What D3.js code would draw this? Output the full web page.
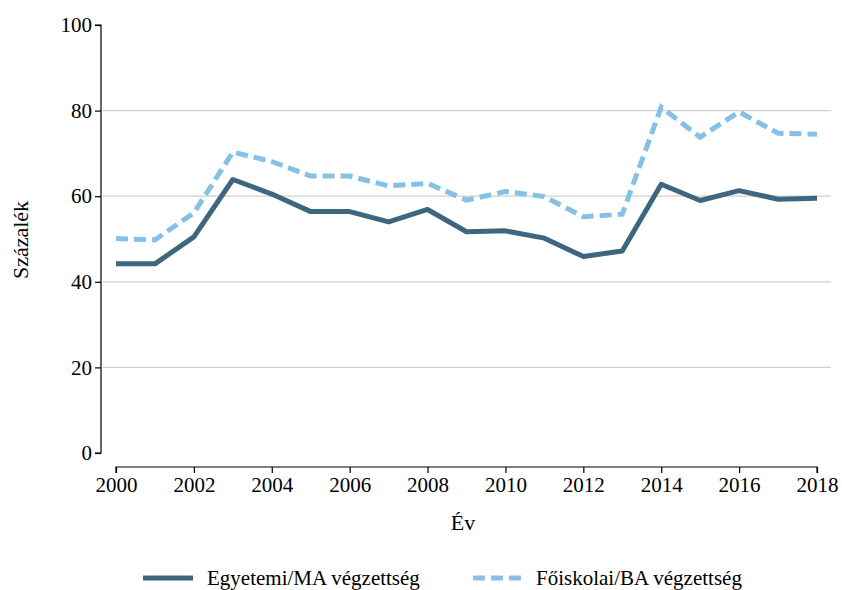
<!DOCTYPE html>
<html><head><meta charset="utf-8">
<script src="https://cdn.jsdelivr.net/npm/d3@7"></script>
</head><body style="margin:0">
<svg id="chart" width="842" height="590"></svg>
<script>
const years = [2000,2001,2002,2003,2004,2005,2006,2007,2008,2009,2010,2011,2012,2013,2014,2015,2016,2017,2018];
const maValues = [44.2,44.2,50.5,63.9,60.5,56.4,56.4,54.0,56.9,51.7,51.9,50.2,45.9,47.2,62.8,59.0,61.3,59.3,59.5];
const baValues = [50.1,49.8,56.1,70.3,68.1,64.7,64.7,62.4,63.0,59.1,61.1,59.9,55.2,55.8,80.8,73.8,79.7,74.7,74.5];
const yTicks = [0,20,40,60,80,100];
const xTicks = [2000,2002,2004,2006,2008,2010,2012,2014,2016,2018];
const seriesNames = ["Egyetemi/MA végzettség","Főiskolai/BA végzettség"];
const colors = ["#3f6680","#85c0e9"];
const FONT = '"Liberation Serif", Tinos, "Times New Roman", FreeSerif, serif';

const svg = d3.select("#chart");
svg.node().style.setProperty("font-family", FONT, "important");
const setFont = sel => sel.each(function(){ this.style.setProperty("font-family", FONT, "important"); });

const x = d3.scaleLinear().domain([2000,2018]).range([116,817]);
const y = d3.scaleLinear().domain([0,100]).range([453,25]);

// gridlines
svg.append("g").selectAll("line").data(yTicks.filter(d=>d>0&&d<100)).join("line")
  .attr("x1",103).attr("x2",831).attr("y1",d=>y(d)).attr("y2",d=>y(d))
  .attr("stroke","#d0d0d0").attr("stroke-width",1.2);

// y axis
const ya = svg.append("g").attr("transform","translate(101,0)")
  .call(d3.axisLeft(y).tickValues(yTicks).tickSize(6).tickPadding(3));
setFont(ya);
ya.select(".domain").attr("stroke","#000").attr("stroke-width",1.2).attr("d","M-6,"+y(100)+"H0V"+y(0)+"H-6");
ya.selectAll(".tick line").attr("stroke","#000").attr("stroke-width",1.2);
setFont(ya.selectAll("text").attr("font-size",21).attr("fill","#000"));

// x axis
const xa = svg.append("g").attr("transform","translate(0,467)")
  .call(d3.axisBottom(x).tickValues(xTicks).tickFormat(d3.format("d")).tickSize(6).tickPadding(4));
setFont(xa);
xa.select(".domain").attr("stroke","#000").attr("stroke-width",1.2).attr("d","M"+x(2000)+",6V0H"+x(2018)+"V6");
xa.selectAll(".tick line").attr("stroke","#000").attr("stroke-width",1.2);
setFont(xa.selectAll("text").attr("font-size",21).attr("fill","#000"));

// titles
setFont(svg.append("text").attr("x",463).attr("y",530).attr("text-anchor","middle")
  .attr("font-size",22).text("Év"));
setFont(svg.append("text").attr("transform","translate(28,240) rotate(-90)").attr("text-anchor","middle")
  .attr("font-size",22).text("Százalék"));

// lines
const line = d3.line().x((d,i)=>x(years[i])).y(d=>y(d));
svg.append("path").datum(baValues).attr("d",line).attr("fill","none")
  .attr("stroke",colors[1]).attr("stroke-width",5).attr("stroke-dasharray","12,6");
svg.append("path").datum(maValues).attr("d",line).attr("fill","none")
  .attr("stroke",colors[0]).attr("stroke-width",5).attr("stroke-linejoin","round");

// legend
const lg = svg.append("g");
const legendItems = [{x:143,tx:207,dash:null},{x:473,tx:536,dash:"12,6"}];
legendItems.forEach((it,i)=>{
  lg.append("line").attr("x1",it.x).attr("x2",it.x+50).attr("y1",578).attr("y2",578)
    .attr("stroke",colors[i]).attr("stroke-width",5).attr("stroke-dasharray",it.dash);
  setFont(lg.append("text").attr("x",it.tx).attr("y",585)
    .attr("font-size",21).text(seriesNames[i]));
});
</script>
</body></html>
